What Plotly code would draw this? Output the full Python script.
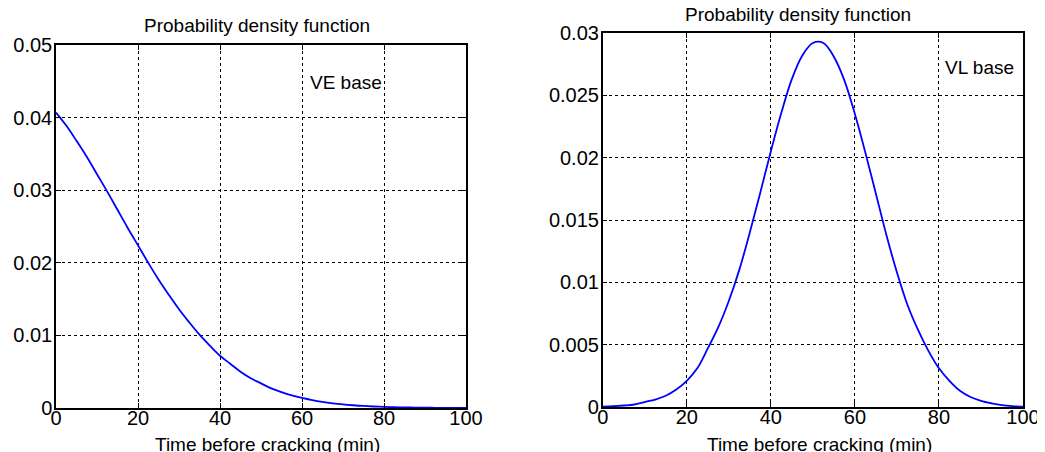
import plotly.graph_objects as go

# ---- data ----
time_min = [0, 2.5, 5, 7.5, 10, 12.5, 15, 17.5, 20, 22.5,
            25, 27.5, 30, 32.5, 35, 37.5, 40, 42.5, 45, 47.5,
            50, 52.5, 55, 57.5, 60, 62.5, 65, 67.5, 70, 72.5,
            75, 77.5, 80, 82.5, 85, 87.5, 90, 92.5, 95, 97.5, 100]
pdf_ve = [0.0407, 0.0389, 0.0368, 0.0346, 0.0322, 0.0298, 0.0273, 0.0248, 0.0224, 0.0200,
          0.0177, 0.0156, 0.0136, 0.0118, 0.0101, 0.0086, 0.0072, 0.0061, 0.0050, 0.0041,
          0.0034, 0.0027, 0.0022, 0.00175, 0.00138, 0.00108, 0.00084, 0.00065, 0.00050, 0.00038,
          0.00028, 0.00021, 0.00016, 0.00011, 0.00008, 0.00006, 0.00004, 0.00003, 0.00002, 0.00001, 0.00001]
pdf_vl = [0.00003, 0.00006, 0.00012, 0.0002, 0.0004, 0.0006, 0.0009, 0.0014, 0.0021, 0.0031,
          0.0047, 0.0064, 0.0085, 0.0110, 0.0140, 0.0172, 0.0205, 0.0236, 0.0263, 0.0282,
          0.0292, 0.0292, 0.0281, 0.0262, 0.0235, 0.0204, 0.0171, 0.0138, 0.0108, 0.0082,
          0.0062, 0.0045, 0.0031, 0.0021, 0.0013, 0.0008, 0.0005, 0.0003, 0.00015, 0.00007, 0.00003]

x_ticks = [0, 20, 40, 60, 80, 100]
x_tick_text = ["0", "20", "40", "60", "80", "100"]
ve_y_ticks = [0, 0.01, 0.02, 0.03, 0.04, 0.05]
ve_y_text = ["0", "0.01", "0.02", "0.03", "0.04", "0.05"]
vl_y_ticks = [0, 0.005, 0.01, 0.015, 0.02, 0.025, 0.03]
vl_y_text = ["0", "0.005", "0.01", "0.015", "0.02", "0.025", "0.03"]

title_text = "Probability density function"
x_title = "Time before cracking (min)"
labels = ["VE base", "VL base"]

W, H = 1045, 452
OFF = 8  # page body margin
FONT = "Liberation Sans, Arial, sans-serif"

fig = go.Figure()
fig.add_trace(go.Scatter(x=time_min, y=pdf_ve, mode="lines",
                         line=dict(color="#0000ff", width=1.8, shape="spline"),
                         xaxis="x", yaxis="y", showlegend=False))
fig.add_trace(go.Scatter(x=time_min, y=pdf_vl, mode="lines",
                         line=dict(color="#0000ff", width=1.8, shape="spline"),
                         xaxis="x2", yaxis="y2", showlegend=False))

def xdom(a, b):
    return [(a - OFF) / W, (b - OFF) / W]

def ydom(top, bottom):
    return [(H - (bottom - OFF)) / H, (H - (top - OFF)) / H]

def px(xp):
    return (xp - OFF) / W

def py(yp):
    return 1 - (yp - OFF) / H

axis_common = dict(showline=True, linecolor="black", linewidth=1.5, mirror="ticks",
                   ticks="inside", ticklen=5, tickcolor="black", tickwidth=1,
                   showgrid=True, gridcolor="black", gridwidth=1, griddash="3px,3px",
                   zeroline=False, automargin=False,
                   tickfont=dict(family=FONT, size=20, color="black"))

fig.update_layout(
    width=W, height=H,
    margin=dict(l=0, r=0, t=0, b=0),
    paper_bgcolor="white", plot_bgcolor="white",
    xaxis=dict(domain=xdom(56, 466), range=[0, 100], tickvals=x_ticks, ticktext=x_tick_text,
               anchor="y", ticklabelstandoff=-9, **axis_common),
    yaxis=dict(domain=ydom(45, 408), range=[0, 0.05], tickvals=ve_y_ticks, ticktext=ve_y_text,
               anchor="x", ticklabelstandoff=-2, **axis_common),
    xaxis2=dict(domain=xdom(602.7, 1023), range=[0, 100], tickvals=x_ticks, ticktext=x_tick_text,
                anchor="y2", ticklabelstandoff=-9, **axis_common),
    yaxis2=dict(domain=ydom(33, 407), range=[0, 0.03], tickvals=vl_y_ticks, ticktext=vl_y_text,
                anchor="x2", ticklabelstandoff=-2, **axis_common),
)

ann_font = dict(family=FONT, size=19, color="black")
fig.add_annotation(text=title_text, xref="paper", yref="paper", x=px(257), y=py(25),
                   showarrow=False, font=ann_font, xanchor="center", yanchor="middle")
fig.add_annotation(text=title_text, xref="paper", yref="paper", x=px(798), y=py(15),
                   showarrow=False, font=ann_font, xanchor="center", yanchor="middle")
fig.add_annotation(text=x_title, xref="paper", yref="paper", x=px(267.5), y=py(444),
                   showarrow=False, font=ann_font, xanchor="center", yanchor="middle")
fig.add_annotation(text=x_title, xref="paper", yref="paper", x=px(819), y=py(444),
                   showarrow=False, font=ann_font, xanchor="center", yanchor="middle")
fig.add_annotation(text=labels[0], xref="x", yref="y", x=61.5, y=0.0449,
                   showarrow=False, font=ann_font, xanchor="left", yanchor="middle")
fig.add_annotation(text=labels[1], xref="x2", yref="y2", x=81.0, y=0.0272,
                   showarrow=False, font=ann_font, xanchor="left", yanchor="middle")

fig.write_html("out.html")
